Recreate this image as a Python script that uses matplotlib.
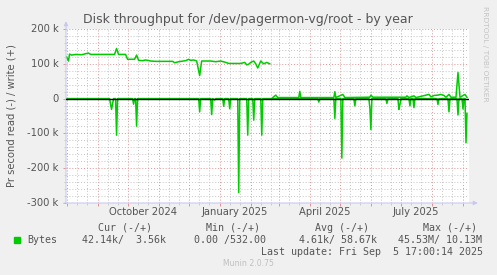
import matplotlib
matplotlib.use("Agg")
import matplotlib.pyplot as plt
import matplotlib.dates as mdates
import matplotlib.patches as mpatches
import numpy as np
import pandas as pd

W, H = 497, 275

title = "Disk throughput for /dev/pagermon-vg/root - by year"
y_label = "Pr second read (-) / write (+)"
y_ticks = [200, 100, 0, -100, -200, -300]
y_tick_labels = ["200 k", "100 k", "0", "-100 k", "-200 k", "-300 k"]
x_labels = ["October 2024", "January 2025", "April 2025", "July 2025"]
x_label_dates = ["2024-10-16", "2025-01-16", "2025-04-16", "2025-07-16"]

# write (+), k bytes/s
write_dates = [
    "2024-08-01", "2024-08-03", "2024-08-04", "2024-08-06", "2024-08-10", "2024-08-16",
    "2024-08-23", "2024-08-25", "2024-09-08", "2024-09-18", "2024-09-20", "2024-09-22",
    "2024-09-29", "2024-10-01", "2024-10-08", "2024-10-10", "2024-10-12", "2024-10-16",
    "2024-10-19", "2024-10-24", "2024-10-29", "2024-11-15", "2024-11-17", "2024-11-21",
    "2024-11-28", "2024-12-01", "2024-12-03", "2024-12-06", "2024-12-09", "2024-12-12",
    "2024-12-14", "2024-12-23", "2024-12-28", "2025-01-02", "2025-01-07", "2025-01-10",
    "2025-01-22", "2025-01-26", "2025-01-28", "2025-01-30", "2025-02-01", "2025-02-04",
    "2025-02-06", "2025-02-08", "2025-02-11", "2025-02-14", "2025-02-17", "2025-02-20",
    "2025-02-21", "2025-02-23", "2025-02-26", "2025-02-28", "2025-03-21", "2025-03-22",
    "2025-03-23", "2025-04-25", "2025-04-26", "2025-04-27", "2025-05-04", "2025-05-06",
    "2025-05-31", "2025-06-01", "2025-06-03", "2025-07-06", "2025-07-07", "2025-07-09",
    "2025-07-14", "2025-07-16", "2025-07-29", "2025-07-31", "2025-08-03", "2025-08-07",
    "2025-08-10", "2025-08-13", "2025-08-15", "2025-08-18", "2025-08-20", "2025-08-25",
    "2025-08-27", "2025-08-29", "2025-09-03", "2025-09-05",
]
write_vals = [
    120, 108, 128, 125, 127, 126,
    131, 127, 127, 127, 144, 127,
    127, 113, 113, 125, 110, 109,
    111, 108, 107, 107, 103, 106,
    109, 113, 110, 111, 108, 66,
    108, 108, 106, 108, 104, 101,
    101, 104, 97, 99, 104, 108,
    100, 88, 108, 100, 104, 100,
    np.nan, 3, 10, 3, 3, 21,
    3, 3, 20, 3, 12, 3,
    4, 10, 4, 4, 8, 3,
    8, 3, 12, 5, 9, 10,
    12, 9, 4, 12, 4, 4,
    75, 4, 12, 3.56,
]

# read (-), k bytes/s
read_dates = [
    "2024-08-01", "2024-09-13", "2024-09-15", "2024-09-17", "2024-09-19", "2024-09-20",
    "2024-09-21", "2024-10-06", "2024-10-07", "2024-10-08", "2024-10-09", "2024-10-10",
    "2024-10-11", "2024-12-11", "2024-12-12", "2024-12-13", "2024-12-23", "2024-12-24",
    "2024-12-25", "2024-12-27", "2024-12-28", "2025-01-04", "2025-01-05", "2025-01-06",
    "2025-01-10", "2025-01-11", "2025-01-12", "2025-01-19", "2025-01-20", "2025-01-21",
    "2025-01-28", "2025-01-29", "2025-01-30", "2025-02-03", "2025-02-04", "2025-02-05",
    "2025-02-11", "2025-02-12", "2025-02-13", "2025-04-09", "2025-04-10", "2025-04-11",
    "2025-04-25", "2025-04-26", "2025-04-27", "2025-05-02", "2025-05-03", "2025-05-04",
    "2025-05-15", "2025-05-16", "2025-05-17", "2025-05-30", "2025-05-31", "2025-06-01",
    "2025-06-02", "2025-06-16", "2025-06-17", "2025-06-18", "2025-06-28", "2025-06-29",
    "2025-06-30", "2025-07-01", "2025-07-09", "2025-07-10", "2025-07-11", "2025-07-13",
    "2025-07-14", "2025-07-15", "2025-08-06", "2025-08-07", "2025-08-08", "2025-08-17",
    "2025-08-18", "2025-08-19", "2025-08-26", "2025-08-27", "2025-08-28", "2025-08-31",
    "2025-09-01", "2025-09-02", "2025-09-03", "2025-09-04", "2025-09-05",
]
read_vals = [
    0, 0, 31, 0, 0, 105,
    0, 0, 16, 0, 0, 79,
    0, 0, 38, 0, 0, 46,
    0, 4, 0, 0, 22, 0,
    0, 29, 0, 0, 270, 0,
    0, 105, 0, 0, 62, 0,
    0, 105, 0, 0, 10, 0,
    0, 57, 0, 0, 171, 0,
    0, 21, 0, 0, 27, 89,
    0, 0, 14, 0, 0, 31,
    17, 0, 0, 21, 0, 0,
    26, 0, 0, 17, 0, 0,
    38, 0, 0, 47, 0, 0,
    30, 0, 0, 127, 42.14,
]

legend_head = ["Cur (-/+)", "Min (-/+)", "Avg (-/+)", "Max (-/+)"]
legend_vals = ["42.14k/  3.56k", "0.00 /532.00", "4.61k/ 58.67k", "45.53M/ 10.13M"]
last_update = "Last update: Fri Sep  5 17:00:14 2025"

TXT = "#555555"
GREEN = "#00cc00"
AXIS = "#c8c8f0"


def fx(px):
    return px / W


def fy(py):
    return 1 - py / H


fig = plt.figure(figsize=(W / 100, H / 100), dpi=100, facecolor="#f0f0f0")
ax = fig.add_axes([fx(66), fy(203), (469 - 66) / W, (203 - 29) / H])
ax.set_facecolor("white")

x0 = pd.Timestamp("2024-07-31 12:00")
x1 = pd.Timestamp("2025-09-07")
ax.set_xlim(x0, x1)
ax.set_ylim(-300, 200)

# grid
ax.yaxis.set_major_locator(matplotlib.ticker.MultipleLocator(100))
ax.yaxis.set_minor_locator(matplotlib.ticker.MultipleLocator(20))
ax.xaxis.set_major_locator(mdates.MonthLocator())
ax.xaxis.set_minor_locator(mdates.DayLocator(bymonthday=[11, 21]))
ax.grid(which="minor", color="#c4c4c4", ls=(0, (1, 2)), lw=0.7)
ax.grid(which="major", color="#e09494", ls=(0, (1, 2)), lw=0.7)
ax.set_axisbelow(True)
ax.tick_params(which="both", labelbottom=False, labelleft=False)
ax.tick_params(which="major", length=2, width=0.7, color="#e09494")
ax.tick_params(which="minor", length=1.5, width=0.6, color="#c4c4c4")
for s in ax.spines.values():
    s.set_visible(False)

wd = pd.to_datetime(write_dates)
rd = pd.to_datetime(read_dates)
ax.plot(wd, write_vals, color=GREEN, lw=1.1, zorder=3)
ax.plot(rd, -np.array(read_vals), color=GREEN, lw=1.1, zorder=3)
ax.axhline(0, color="black", lw=1.0, zorder=4)

# axes with arrows
ax.annotate("", xy=(0, 1.045), xytext=(0, 0), xycoords="axes fraction",
            arrowprops=dict(arrowstyle="-|>", color=AXIS, lw=0.8,
                            mutation_scale=6, shrinkA=0, shrinkB=0))
ax.annotate("", xy=(1.022, 0), xytext=(-0.005, 0), xycoords="axes fraction",
            arrowprops=dict(arrowstyle="-|>", color=AXIS, lw=0.8,
                            mutation_scale=6, shrinkA=0, shrinkB=0))

# tick labels
for v, lab in zip(y_ticks, y_tick_labels):
    ax.text(-0.018, v, lab, transform=ax.get_yaxis_transform(), ha="right",
            va="center", fontsize=7.2, color=TXT)
for d, lab in zip(x_label_dates, x_labels):
    ax.text(pd.Timestamp(d), -0.05, lab, transform=ax.get_xaxis_transform(),
            ha="center", va="center", fontsize=7.2, color=TXT)

fig.text(fx(248), fy(19), title, ha="center", va="center", fontsize=9, color=TXT)
fig.text(fx(12), fy(116), y_label, rotation=90, ha="center", va="center",
         fontsize=7.2, color=TXT)
fig.text(fx(485), fy(6), "RRDTOOL / TOBI OETIKER", rotation=270, ha="center",
         va="top", fontsize=5.4, color="#c4c4c4")

# legend
mono = "DejaVu Sans Mono"
head_x = [98, 206, 315, 423]
val_x = [82, 194, 299, 398]
for x, t in zip(head_x, legend_head):
    fig.text(fx(x), fy(228), t, ha="left", va="center", fontsize=7.2,
             family=mono, color=TXT)
fig.patches.append(mpatches.Rectangle((fx(14), fy(243)), 6 / W, 6 / H,
                                      transform=fig.transFigure,
                                      color=GREEN, figure=fig))
fig.text(fx(27), fy(240), "Bytes", ha="left", va="center", fontsize=7.2,
         family=mono, color=TXT)
for x, t in zip(val_x, legend_vals):
    fig.text(fx(x), fy(240), t, ha="left", va="center", fontsize=7.2,
             family=mono, color=TXT)
fig.text(fx(483), fy(252), last_update, ha="right", va="center", fontsize=7.2,
         family=mono, color=TXT)
fig.text(fx(248), fy(264), "Munin 2.0.75", ha="center", va="center",
         fontsize=5.6, color="#c0c0c0")

fig.savefig("out.png", dpi=100, facecolor=fig.get_facecolor())
